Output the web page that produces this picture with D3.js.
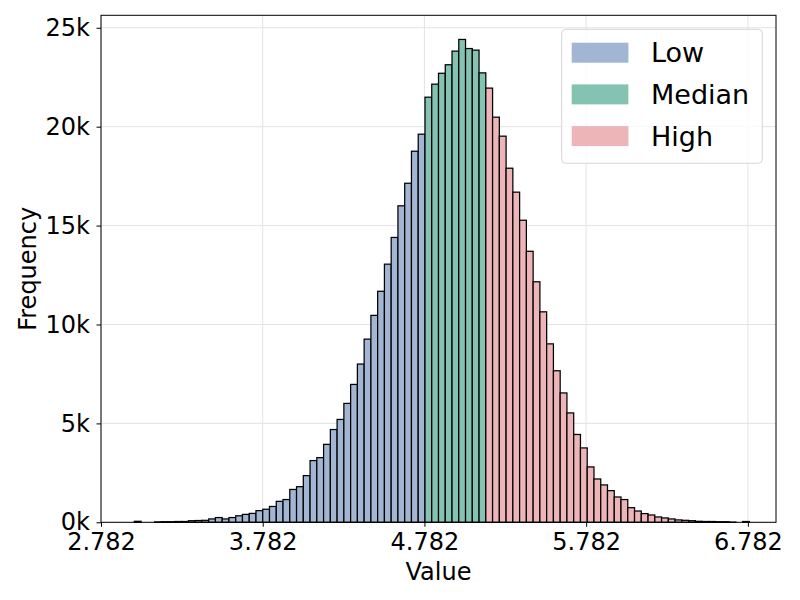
<!DOCTYPE html>
<html>
<head>
<meta charset="utf-8">
<script src="https://cdn.jsdelivr.net/npm/d3@7"></script>
<style>
  body { margin: 0; background: #fff; }
  text { font-family: "DejaVu Sans", sans-serif; fill: #000; }
</style>
</head>
<body>
<script>
    var width = 800,
        height = 600,
        margin = {top: 15.3, right: 24, bottom: 77.7, left: 101};

    // histogram data: first bin edge, bin width and counts per bin
    var binStart = 2.988,
        binWidth = 0.0418;

    var counts = [
        50, 0, 0, 20, 30, 30, 40, 40, 80, 90,
        100, 170, 240, 170, 240, 330, 400, 450, 590, 660,
        800, 1060, 1150, 1660, 1800, 2360, 3120, 3270, 3940, 4690,
        5200, 6010, 6970, 8000, 9260, 10460, 11680, 13050, 14400, 16000,
        17140, 18760, 19620, 21490, 22150, 22700, 23130, 23820, 24410, 23950,
        23870, 22720, 21950, 20480, 19520, 17900, 16690, 15270, 13700, 12160,
        10640, 9020, 7660, 6540, 5530, 4440, 3760, 2800, 2190, 1890,
        1600, 1280, 1150, 740, 570, 440, 370, 270, 220, 170,
        120, 100, 80, 50, 40, 40, 30, 30, 10, 0,
        40
    ];

    var categories = ["Low", "Median", "High"],
        colors = ["#a2b6d4", "#84c3b1", "#eeb5b9"],
        thresholds = [4.785, 5.162];   // Low | Median | High split points

    var xTicks = [2.782, 3.782, 4.782, 5.782, 6.782],
        yTicks = [0, 5000, 10000, 15000, 20000, 25000];

    var bins = counts.map(function (c, i) {
        var x0 = binStart + i * binWidth;
        var mid = x0 + binWidth / 2;
        var g = mid < thresholds[0] ? 0 : (mid < thresholds[1] ? 1 : 2);
        return {x0: x0, x1: x0 + binWidth, count: c, group: g};
    });

    var innerW = width - margin.left - margin.right,
        innerH = height - margin.top - margin.bottom;

    var x = d3.scaleLinear()
        .domain([2.782, 6.956])
        .range([0, innerW]);

    var y = d3.scaleLinear()
        .domain([0, d3.max(counts) * 1.05])
        .range([innerH, 0]);

    var svg = d3.select("body")
        .append("svg")
        .attr("width", width)
        .attr("height", height);

    var g = svg.append("g")
        .attr("transform", "translate(" + margin.left + "," + margin.top + ")");

    // grid
    g.append("g")
        .selectAll("line")
        .data(xTicks)
        .enter()
        .append("line")
        .attr("x1", function (d) { return x(d); })
        .attr("x2", function (d) { return x(d); })
        .attr("y1", 0)
        .attr("y2", innerH)
        .style("stroke", "#e3e3e3")
        .style("stroke-width", 1);

    g.append("g")
        .selectAll("line")
        .data(yTicks)
        .enter()
        .append("line")
        .attr("x1", 0)
        .attr("x2", innerW)
        .attr("y1", function (d) { return y(d); })
        .attr("y2", function (d) { return y(d); })
        .style("stroke", "#e3e3e3")
        .style("stroke-width", 1);

    // bars
    g.append("g")
        .selectAll("rect")
        .data(bins.filter(function (d) { return d.count > 0; }))
        .enter()
        .append("rect")
        .attr("x", function (d) { return x(d.x0); })
        .attr("y", function (d) { return y(d.count); })
        .attr("width", function (d) { return x(d.x1) - x(d.x0); })
        .attr("height", function (d) { return innerH - y(d.count); })
        .style("fill", function (d) { return colors[d.group]; })
        .style("stroke", "#000")
        .style("stroke-width", 1.25);

    // axes
    var xAxis = g.append("g")
        .attr("transform", "translate(0," + innerH + ")")
        .call(d3.axisBottom(x)
            .tickValues(xTicks)
            .tickFormat(d3.format(".3f"))
            .tickSizeOuter(0)
            .tickSize(4.5)
            .tickPadding(6));

    var yAxis = g.append("g")
        .call(d3.axisLeft(y)
            .tickValues(yTicks)
            .tickFormat(function (d) { return (d / 1000) + "k"; })
            .tickSizeOuter(0)
            .tickSize(4.5)
            .tickPadding(6.5));

    [xAxis, yAxis].forEach(function (a) {
        a.select(".domain").remove();
        a.selectAll("line").style("stroke", "#000").style("stroke-width", 1);
        a.selectAll("text")
            .style("font-size", "24px")
            .style("font-family", "'DejaVu Sans', sans-serif")
            .attr("fill", "#000");
    });

    // frame
    g.append("rect")
        .attr("width", innerW)
        .attr("height", innerH)
        .style("fill", "none")
        .style("stroke", "#000")
        .style("stroke-width", 1);

    // axis labels
    svg.append("text")
        .attr("x", margin.left + innerW / 2)
        .attr("y", 580)
        .attr("text-anchor", "middle")
        .style("font-size", "24px")
        .text("Value");

    svg.append("text")
        .attr("transform", "translate(36," + (margin.top + innerH / 2) + ") rotate(-90)")
        .attr("text-anchor", "middle")
        .style("font-size", "24px")
        .text("Frequency");

    // legend
    var legend = svg.append("g")
        .attr("transform", "translate(561.7,29.3)");

    legend.append("rect")
        .attr("width", 200.6)
        .attr("height", 134)
        .attr("rx", 4)
        .style("fill", "#fff")
        .style("fill-opacity", 0.8)
        .style("stroke", "#d6d6d6")
        .style("stroke-width", 1);

    var items = legend.selectAll(".item")
        .data(categories)
        .enter()
        .append("g")
        .attr("transform", function (d, i) {
            return "translate(0," + (23.4 + i * 41.7) + ")";
        });

    items.append("rect")
        .attr("x", 10)
        .attr("y", -10)
        .attr("width", 56.7)
        .attr("height", 20)
        .style("fill", function (d, i) { return colors[i]; });

    items.append("text")
        .attr("x", 89.3)
        .attr("y", 9.7)
        .style("font-size", "27px")
        .text(function (d) { return d; });
</script>
</body>
</html>
